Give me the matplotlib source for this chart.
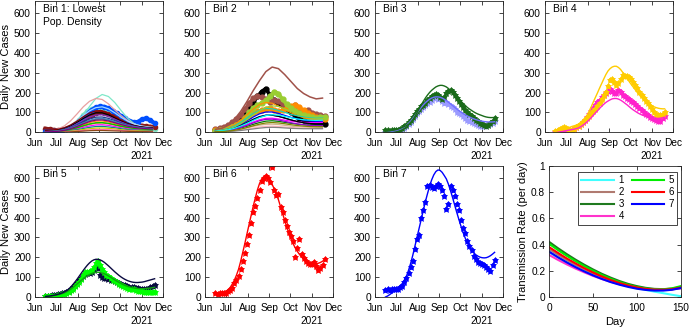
import numpy as np
import matplotlib
matplotlib.use('Agg')
import matplotlib.pyplot as plt
import matplotlib.dates as mdates

plt.rcParams['font.family'] = ['Liberation Sans', 'DejaVu Sans']

# ---- data -------------------------------------------------------------
start = np.datetime64('2021-06-01')
xlim_days = [0, 183]                      # Jun 1 .. Dec 1
days3 = list(range(15, 172, 3))           # daily cases sampled every 3 days
days6 = list(range(15, 172, 6))
days9 = list(range(15, 169, 9))           # coarse grid for the bin 1/2 fits

# bin 1: many counties
bin1_fit_colors = ['#7fe8c8', '#e8a0a0', '#a0d8ff', '#8b0000', 'black', '#7b2fbe',
                   '#1f3a93', '#2e8b57', '#ff8c00', '#b8860b', '#ff00ff', '#008b8b',
                   '#c8c800', '#ff69b4', '#8b4513', '#00c000', '#4682b4', '#800080']
bin1_fits = [
    [0, 1, 3, 8, 20, 45, 85, 130, 170, 190, 180, 150, 110, 72, 45, 28, 18, 12],
    [5, 9, 17, 32, 58, 92, 128, 156, 170, 165, 143, 113, 84, 60, 43, 32, 25, 21],
    [3, 5, 10, 20, 36, 58, 84, 108, 124, 128, 118, 98, 76, 57, 43, 34, 28, 25],
    [10, 12, 15, 23, 37, 56, 78, 97, 108, 107, 95, 78, 60, 46, 35, 28, 24, 22],
    [4, 6, 10, 18, 31, 49, 69, 87, 98, 98, 88, 72, 56, 43, 34, 28, 24, 22],
    [3, 5, 8, 15, 27, 43, 61, 77, 87, 88, 80, 66, 52, 40, 31, 25, 21, 19],
    [2, 4, 7, 13, 23, 37, 53, 67, 76, 77, 70, 59, 47, 37, 29, 24, 20, 18],
    [2, 3, 6, 11, 20, 32, 46, 58, 66, 67, 61, 51, 41, 32, 26, 21, 18, 16],
    [1, 3, 5, 9, 16, 26, 38, 49, 56, 57, 52, 44, 35, 28, 22, 18, 15, 14],
    [1, 2, 4, 8, 13, 21, 31, 40, 46, 47, 43, 36, 29, 23, 18, 15, 13, 12],
    [1, 2, 3, 6, 11, 17, 25, 32, 37, 38, 35, 29, 23, 18, 15, 12, 10, 9],
    [1, 1, 2, 5, 8, 13, 19, 25, 29, 30, 27, 23, 18, 14, 11, 9, 8, 7],
    [0, 1, 2, 3, 6, 9, 14, 18, 21, 22, 20, 17, 13, 10, 8, 7, 6, 5],
    [0, 1, 1, 2, 4, 6, 9, 12, 14, 14, 13, 11, 9, 7, 5, 4, 4, 3],
    [0, 0, 1, 1, 2, 4, 6, 8, 9, 9, 8, 7, 6, 5, 4, 3, 3, 2],
    [2, 3, 5, 9, 15, 23, 33, 42, 48, 49, 45, 38, 31, 25, 20, 17, 15, 14],
    [3, 4, 7, 12, 21, 33, 47, 60, 68, 70, 64, 54, 44, 35, 28, 23, 20, 19],
    [2, 3, 5, 10, 18, 29, 42, 54, 61, 62, 57, 48, 39, 31, 25, 21, 18, 17],
]
bin1_data_colors = ['#7fe8c8', '#8b1a1a', '#0050ff']
bin1_data = [
    [0, 1, 2, 4, 8, 15, 25, 40, 60, 85, 105, 118, 122, 120, 110, 95, 80, 65, 52, 42, 35, 30, 26, 24, 22, 20, 18],
    [18, 15, 12, 10, 12, 15, 22, 32, 45, 60, 75, 88, 98, 102, 98, 90, 80, 70, 60, 52, 45, 40, 36, 33, 30, 28, 26],
    [3, 4, 5, 7, 10, 15, 22, 35, 55, 75, 95, 112, 125, 130, 128, 120, 108, 95, 82, 70, 58, 50, 52, 65, 70, 60, 45],
]

# bin 2
bin2_fit_colors = ['#a0524a', '#ff8c00', '#20d0b0', '#0000ff', '#000080', '#ff00ff',
                   '#008000', '#d2b48c', '#ffb6c1', 'black', '#9400d3', '#9acd32',
                   '#00ffff', '#808080', '#808000']
bin2_fits = [
    [15, 20, 35, 65, 105, 155, 210, 260, 305, 328, 320, 290, 255, 220, 195, 178, 168, 172],
    [10, 14, 22, 38, 60, 88, 117, 140, 150, 146, 132, 115, 98, 84, 73, 66, 62, 60],
    [8, 12, 19, 32, 50, 72, 95, 112, 120, 118, 110, 100, 90, 83, 78, 75, 74, 75],
    [6, 9, 15, 25, 40, 58, 77, 93, 102, 102, 95, 85, 75, 67, 61, 57, 55, 55],
    [5, 8, 13, 22, 35, 50, 66, 79, 86, 86, 80, 71, 62, 54, 48, 44, 41, 40],
    [4, 6, 10, 17, 27, 39, 52, 63, 70, 71, 67, 61, 56, 52, 50, 49, 49, 50],
    [3, 5, 8, 13, 21, 30, 40, 49, 56, 58, 55, 50, 45, 41, 38, 36, 35, 35],
    [2, 4, 6, 10, 15, 22, 30, 36, 40, 41, 39, 35, 31, 28, 26, 25, 25, 25],
    [2, 3, 5, 8, 12, 17, 22, 27, 30, 31, 29, 27, 24, 22, 21, 20, 20, 20],
    [4, 7, 12, 20, 32, 47, 63, 77, 85, 86, 81, 72, 62, 54, 48, 44, 42, 41],
    [3, 5, 9, 15, 24, 35, 47, 58, 65, 66, 62, 55, 48, 42, 38, 35, 33, 33],
    [6, 10, 16, 27, 43, 63, 86, 108, 125, 133, 130, 118, 104, 92, 84, 79, 77, 78],
    [5, 8, 12, 20, 31, 45, 60, 74, 84, 88, 86, 80, 73, 67, 63, 61, 60, 61],
    [2, 3, 4, 6, 9, 13, 17, 21, 24, 25, 24, 22, 20, 19, 18, 18, 18, 18],
    [3, 4, 6, 10, 16, 24, 33, 41, 47, 49, 47, 43, 38, 34, 31, 29, 28, 28],
]
bin2_data_colors = ['black', '#a0524a', '#ff8c00', '#9acd32']
bin2_data = [
    [10, 12, 15, 20, 30, 45, 65, 90, 120, 150, 180, 205, 220, 185, 160, 148, 135, 118, 100, 85, 72, 62, 55, 50, 45, 42, 40],
    [15, 20, 25, 35, 50, 65, 85, 115, 145, 170, 180, 175, 165, 150, 160, 155, 140, 130, 125, 135, 118, 108, 112, 98, 90, 85, 80],
    [10, 12, 15, 20, 28, 38, 50, 65, 80, 95, 105, 110, 115, 120, 112, 105, 110, 120, 130, 135, 125, 110, 95, 85, 75, 70, 65],
    [8, 10, 12, 18, 25, 35, 50, 72, 100, 120, 135, 148, 160, 180, 205, 195, 165, 140, 120, 105, 95, 85, 80, 76, 72, 75, 78],
]

# bin 3
bin3_purple_data = [3, 4, 4, 5, 6, 8, 10, 13, 17, 22, 30, 40, 52, 65, 80, 95, 108, 118, 128, 138,
                    145, 152, 160, 170, 178, 165, 172, 155, 148, 150, 140, 130, 125, 115, 100, 95, 90, 80,
                    70, 62, 55, 50, 45, 40, 35, 33, 32, 33, 35, 38, 42, 48, 55]
bin3_green_data = [10, 10, 8, 10, 10, 12, 14, 18, 22, 30, 38, 50, 62, 75, 90, 105, 118, 130, 135, 145,
                   160, 170, 180, 190, 195, 185, 178, 165, 175, 200, 210, 212, 205, 190, 172, 155, 140, 125,
                   112, 100, 90, 80, 72, 62, 55, 48, 40, 35, 33, 38, 45, 58, 70]
bin3_green_fit = [5, 6, 7, 9, 11, 13, 16, 20, 24, 29, 34, 40, 50, 63, 79, 98, 118, 137, 155, 172,
                  187, 200, 211, 220, 228, 233, 236, 236, 233, 228, 220, 210, 198, 187, 176, 165, 155, 145,
                  135, 125, 117, 110, 103, 97, 92, 88, 84, 80, 77, 75, 74, 74, 75]
bin3_purple_fit = [2, 3, 4, 5, 7, 9, 12, 16, 21, 27, 35, 45, 56, 69, 83, 97, 111, 125, 138, 149,
                   158, 166, 172, 176, 178, 178, 176, 172, 166, 159, 151, 143, 134, 125, 117, 109, 101, 94,
                   88, 82, 77, 72, 68, 64, 61, 58, 56, 54, 53, 52, 52, 52, 53]

# bin 4
bin4_gold_data = [8, 10, 15, 20, 25, 22, 15, 12, 14, 18, 25, 32, 40, 50, 60, 70, 80, 95, 105, 115,
                  130, 145, 165, 185, 205, 235, 265, 270, 255, 240, 250, 270, 288, 285, 282, 278, 270, 255,
                  240, 225, 205, 190, 172, 158, 145, 130, 115, 100, 90, 85, 85, 90, 102]
bin4_pink_data = [3, 4, 5, 5, 6, 6, 8, 10, 14, 18, 25, 32, 40, 50, 62, 75, 90, 105, 120, 135,
                  150, 162, 175, 188, 198, 210, 218, 210, 198, 200, 215, 205, 190, 180, 172, 165, 158, 150,
                  142, 132, 122, 112, 102, 92, 85, 78, 72, 66, 60, 55, 58, 70, 82]
bin4_gold_fit = [5, 7, 9, 12, 15, 18, 22, 26, 30, 33, 36, 42, 50, 60, 72, 85, 105, 128, 152, 175,
                 198, 222, 245, 268, 290, 308, 320, 328, 332, 332, 326, 316, 302, 287, 272, 257, 242, 228,
                 214, 200, 187, 175, 164, 154, 146, 139, 133, 128, 124, 121, 119, 118, 118]
bin4_pink_fit = [2, 3, 4, 5, 6, 8, 10, 12, 14, 16, 19, 22, 28, 35, 43, 52, 62, 73, 85, 97,
                 108, 120, 131, 141, 150, 157, 163, 168, 170, 170, 167, 162, 155, 147, 139, 130, 121, 113,
                 106, 99, 93, 88, 84, 80, 77, 74, 72, 71, 70, 70, 71, 73, 76]

# bin 5
bin5_navy_data = [5, 5, 6, 8, 10, 12, 15, 17, 20, 22, 25, 30, 38, 48, 60, 72, 85, 98, 108, 115,
                  120, 122, 125, 135, 150, 145, 110, 100, 98, 95, 92, 88, 85, 80, 75, 70, 65, 62,
                  58, 55, 52, 50, 48, 45, 43, 42, 40, 40, 40, 42, 48, 55, 58]
bin5_green_data = [3, 4, 4, 5, 6, 7, 9, 11, 14, 17, 21, 26, 33, 42, 55, 65, 75, 90, 110, 125,
                   128, 130, 135, 150, 170, 182, 160, 140, 125, 112, 105, 95, 88, 82, 75, 68, 60, 55,
                   50, 45, 42, 40, 38, 35, 32, 30, 28, 26, 25, 24, 23, 24, 26]
bin5_navy_fit = [3, 4, 5, 7, 9, 11, 14, 17, 21, 26, 32, 40, 50, 62, 75, 89, 104, 119, 134, 148,
                 161, 172, 181, 187, 190, 190, 187, 182, 175, 166, 157, 147, 137, 127, 118, 109, 101, 94,
                 88, 83, 79, 76, 74, 73, 73, 74, 75, 77, 80, 83, 86, 89, 92]
bin5_green_fit = [2, 3, 4, 5, 7, 9, 11, 14, 17, 21, 26, 32, 39, 47, 56, 65, 74, 83, 92, 100,
                  107, 113, 118, 122, 124, 125, 124, 121, 117, 112, 106, 100, 93, 86, 80, 74, 68, 63,
                  58, 54, 51, 48, 46, 44, 43, 42, 42, 42, 43, 44, 45, 47, 49]

# bin 6
bin6_data = [20, 15, 20, 18, 20, 22, 28, 35, 45, 70, 85, 104, 140, 180, 221, 265, 310, 372, 430, 460,
             500, 540, 585, 600, 610, 598, 580, 655, 540, 515, 520, 455, 430, 389, 360, 330, 305, 280,
             203, 245, 292, 215, 195, 180, 172, 168, 165, 175, 155, 135, 148, 160, 190]
bin6_fit = [20, 18, 18, 20, 23, 28, 36, 48, 65, 85, 110, 140, 180, 225, 270, 318, 365, 412, 458, 500,
            540, 572, 595, 606, 605, 598, 585, 567, 545, 520, 490, 455, 420, 385, 350, 320, 292, 268,
            248, 230, 215, 202, 192, 184, 178, 173, 170, 168, 168, 170, 174, 180, 188]

# bin 7
bin7_data = [37, 38, 37, 40, 38, 42, 42, 50, 55, 75, 95, 120, 150, 180, 240, 290, 310, 400, 440, 480,
             560, 565, 555, 548, 560, 570, 560, 540, 510, 445, 470, 560, 540, 510, 470, 440, 390, 350,
             320, 280, 255, 235, 205, 190, 175, 170, 168, 160, 150, 140, 130, 160, 185]
bin7_fit = [0, 5, 12, 20, 28, 36, 45, 55, 68, 85, 105, 135, 170, 210, 255, 300, 345, 390, 435, 480,
            520, 558, 590, 615, 632, 640, 638, 628, 612, 595, 568, 535, 500, 462, 425, 390, 356, 325,
            297, 272, 252, 236, 223, 213, 206, 201, 198, 197, 198, 202, 208, 216, 225]

# transmission rate per bin
tr_days = list(range(0, 151, 10))
tr_labels = ['1', '2', '3', '4', '5', '6', '7']
tr_colors = ['#40ffff', '#b07a70', '#1f7a1f', '#ff33cc', '#00ee00', '#ff0000', '#0000ff']
tr_values = [
    [0.340, 0.300, 0.263, 0.229, 0.198, 0.170, 0.145, 0.122, 0.102, 0.084, 0.068, 0.054, 0.041, 0.029, 0.017, 0.006],
    [0.365, 0.322, 0.282, 0.245, 0.211, 0.180, 0.152, 0.127, 0.105, 0.087, 0.073, 0.062, 0.056, 0.055, 0.059, 0.068],
    [0.420, 0.372, 0.327, 0.285, 0.246, 0.210, 0.177, 0.148, 0.122, 0.100, 0.083, 0.070, 0.062, 0.060, 0.064, 0.075],
    [0.320, 0.283, 0.249, 0.217, 0.188, 0.161, 0.137, 0.116, 0.098, 0.083, 0.071, 0.062, 0.057, 0.056, 0.059, 0.066],
    [0.405, 0.358, 0.314, 0.273, 0.235, 0.200, 0.168, 0.139, 0.114, 0.093, 0.076, 0.065, 0.058, 0.058, 0.066, 0.083],
    [0.380, 0.336, 0.294, 0.256, 0.220, 0.187, 0.157, 0.130, 0.107, 0.088, 0.073, 0.062, 0.056, 0.055, 0.060, 0.072],
    [0.345, 0.303, 0.264, 0.228, 0.195, 0.165, 0.138, 0.114, 0.094, 0.077, 0.063, 0.054, 0.049, 0.049, 0.055, 0.068],
]

# ---- helpers ----------------------------------------------------------
AXC = '#262626'

def to_dates(days):
    return start + np.array(days).astype('timedelta64[D]')

def style_axes(ax):
    for s in ax.spines.values():
        s.set_color(AXC)
        s.set_linewidth(0.6)
    ax.tick_params(direction='in', length=3, width=0.6, colors=AXC,
                   labelcolor='black', labelsize=7.3, top=True, right=True)

def case_axes(ax, label, ylabel=False):
    style_axes(ax)
    ax.set_xlim(to_dates(xlim_days))
    ax.set_ylim(0, 660)
    ax.set_yticks(range(0, 700, 100))
    ax.xaxis.set_major_locator(mdates.MonthLocator())
    ax.xaxis.set_major_formatter(mdates.DateFormatter('%b'))
    ax.tick_params(axis='x', pad=4)
    ax.tick_params(axis='y', pad=3)
    ax.text(0.06, 0.975, label, transform=ax.transAxes, ha='left', va='top',
            fontsize=7.5, linespacing=1.3)
    ax.annotate('2021', xy=(153 / 183, 0), xycoords='axes fraction',
                xytext=(0, -13.5), textcoords='offset points',
                ha='center', va='top', fontsize=7.3)
    if ylabel:
        ax.set_ylabel('Daily New Cases', fontsize=8)
        ax.yaxis.set_label_coords(-0.19, 0.5)

def plot_data(ax, days, vals, color):
    d = to_dates(days)
    ax.plot(d, vals, ls='none', marker='*', ms=4.5, color=color, mew=0.6)
    ax.plot(d, vals, ls='none', marker='o', ms=3.4, color=color, mew=0)

def plot_fit(ax, days, vals, color, lw=1.0):
    ax.plot(to_dates(days), vals, '-', color=color, lw=lw)

# ---- figure -----------------------------------------------------------
fig = plt.figure(figsize=(6.89, 3.27), dpi=100)
W, H = 689, 327

def px_axes(l, t, w, h):
    return fig.add_axes([l / W, 1 - (t + h) / H, w / W, h / H])

top, bot, aw, ah = 1.0, 166.0, 128.0, 131.3
lefts = [35, 205, 375, 545]

ax1 = px_axes(lefts[0], top, aw, ah)
ax2 = px_axes(lefts[1], top, aw, ah)
ax3 = px_axes(lefts[2], top, aw, ah)
ax4 = px_axes(lefts[3], top, aw, ah)
ax5 = px_axes(lefts[0], bot, aw, 131)
ax6 = px_axes(lefts[1], bot, aw, 131)
ax7 = px_axes(lefts[2], bot, aw, 131)
ax8 = px_axes(549.3, bot, 131.4, 131)

# bin 1
for vals, c in zip(bin1_data, bin1_data_colors):
    ax1.plot(to_dates(days6), vals, '-', color=c, lw=3, marker='o', ms=3)
for vals, c in zip(bin1_fits, bin1_fit_colors):
    plot_fit(ax1, days9, vals, c, lw=0.9)
case_axes(ax1, 'Bin 1: Lowest\nPop. Density', ylabel=True)

# bin 2
for vals, c in zip(bin2_data, bin2_data_colors):
    ax2.plot(to_dates(days6), vals, '-', color=c, lw=2.6, marker='o', ms=3.5)
for vals, c in zip(bin2_fits[1:], bin2_fit_colors[1:]):
    plot_fit(ax2, days9, vals, c, lw=0.9)
plot_fit(ax2, days9, bin2_fits[0], bin2_fit_colors[0], lw=1.1)
case_axes(ax2, 'Bin 2')

# bin 3
plot_data(ax3, days3, bin3_purple_data, '#9a9aff')
plot_data(ax3, days3, bin3_green_data, '#1a6b1a')
plot_fit(ax3, days3, bin3_purple_fit, '#6f6fff')
plot_fit(ax3, days3, bin3_green_fit, '#1a6b1a')
case_axes(ax3, 'Bin 3')

# bin 4
plot_data(ax4, days3, bin4_pink_data, '#ff22cc')
plot_data(ax4, days3, bin4_gold_data, '#ffcc00')
plot_fit(ax4, days3, bin4_pink_fit, '#ff22cc')
plot_fit(ax4, days3, bin4_gold_fit, '#ffcc00')
case_axes(ax4, 'Bin 4')

# bin 5
plot_data(ax5, days3, bin5_navy_data, '#0a0a40')
plot_data(ax5, days3, bin5_green_data, '#00ff00')
plot_fit(ax5, days3, bin5_green_fit, '#10a010')
plot_fit(ax5, days3, bin5_navy_fit, '#0a0a40')
case_axes(ax5, 'Bin 5', ylabel=True)

# bin 6
plot_data(ax6, days3, bin6_data, '#ff0000')
plot_fit(ax6, days3, bin6_fit, '#ff0000')
case_axes(ax6, 'Bin 6')

# bin 7
plot_data(ax7, days3, bin7_data, '#0000ff')
plot_fit(ax7, days3, bin7_fit, '#0000ff')
case_axes(ax7, 'Bin 7')

# transmission rate
style_axes(ax8)
for vals, c, lab in zip(tr_values, tr_colors, tr_labels):
    ax8.plot(tr_days, vals, '-', color=c, lw=1.5, label=lab)
ax8.set_xlim(0, 150)
ax8.set_ylim(0, 1)
ax8.set_xticks([0, 50, 100, 150])
ax8.set_yticks([0, 0.2, 0.4, 0.6, 0.8, 1.0])
ax8.set_yticklabels(['0', '0.2', '0.4', '0.6', '0.8', '1'])
ax8.tick_params(axis='x', pad=4)
ax8.tick_params(axis='y', pad=3)
ax8.set_xlabel('Day', fontsize=8, labelpad=3)
ax8.set_ylabel('Transmission Rate (per day)', fontsize=8)
ax8.yaxis.set_label_coords(-0.16, 0.5)
leg = ax8.legend(ncol=2, loc='upper right', bbox_to_anchor=(0.975, 0.955),
                 borderaxespad=0, fontsize=7, handlelength=3.3, handletextpad=0.5,
                 columnspacing=0.8, labelspacing=0.2, borderpad=0.35,
                 fancybox=False, framealpha=1, edgecolor=AXC)
leg.get_frame().set_linewidth(0.6)

fig.savefig('out.png', dpi=100)
